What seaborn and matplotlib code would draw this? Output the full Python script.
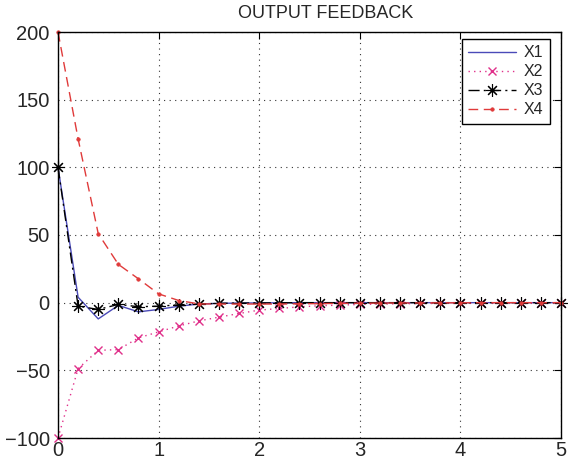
import numpy as np
import pandas as pd
import matplotlib
matplotlib.use("Agg")
import matplotlib.pyplot as plt
import seaborn as sns

# Sample times (step 0.2 s)
t = [round(0.2 * i, 1) for i in range(26)]

# State trajectories under output feedback
x1 = [100, 4, -12, -2, -6.8, -5, -2.6, -1, -0.5, -0.3, -0.2, -0.1, 0, 0, 0, 0,
      0, 0, 0, 0, 0, 0, 0, 0, 0, 0]
x2 = [-100, -48.7, -35.2, -34.7, -26, -21.6, -17.2, -13.5, -10.7, -8, -5.5, -4.3,
      -3.1, -2.3, -1.8, -1.3, -1.0, -0.8, -0.6, -0.5, -0.4, -0.3, -0.2, -0.2, -0.1, -0.1]
x3 = [100, -2.6, -5, -1.3, -3, -2.6, -1.6, -1, -0.5, -0.3, -0.2, -0.1, 0, 0, 0, 0,
      0, 0, 0, 0, 0, 0, 0, 0, 0, 0]
x4 = [200, 121, 51, 28.3, 17.6, 6.5, 1.6, -0.9, -1, -1, -1, -1, -0.8, -0.7, -0.5,
      -0.4, -0.3, -0.2, -0.2, -0.1, -0.1, 0, 0, 0, 0, 0]

labels = ["X1", "X2", "X3", "X4"]
x_ticks = [0, 1, 2, 3, 4, 5]
y_ticks = [-100, -50, 0, 50, 100, 150, 200]

df = pd.DataFrame({"t": t, "X1": x1, "X2": x2, "X3": x3, "X4": x4})

sns.set_style("white")
plt.rcParams["font.family"] = ["Liberation Sans", "DejaVu Sans"]

fig = plt.figure(figsize=(5.68, 4.62), dpi=100)
ax = fig.add_axes([58 / 568, 24 / 462, 503 / 568, 406 / 462])

styles = {
    "X1": dict(color="#4a4ab8", linestyle="-", lw=1.0),
    "X2": dict(color="#e0308a", linestyle=(0, (1, 3)), marker="x", lw=1.0,
               markersize=6, markeredgewidth=1.0),
    "X3": dict(color="black", linestyle=(0, (8, 3, 1.5, 3)), marker=(8, 2, 0),
               lw=1.0, markersize=9, markeredgewidth=0.8),
    "X4": dict(color="#e03a3a", linestyle=(0, (7, 4)), marker=".", lw=1.0,
               markersize=5, markeredgewidth=0.5),
}

for name in labels:
    st = dict(styles[name])
    if "marker" in st:
        st["markeredgecolor"] = st["color"]
        st["markerfacecolor"] = st["color"]
    sns.lineplot(data=df, x="t", y=name, ax=ax, label=name, clip_on=False, **st)

ax.set_xlim(0, 5)
ax.set_ylim(-100, 200)
ax.set_xticks(x_ticks)
ax.set_yticks(y_ticks)
ax.set_xlabel("")
ax.set_ylabel("")
ax.grid(True, linestyle=(0, (1, 4)), color="#333333", linewidth=0.8)
ax.tick_params(direction="in", length=5, width=0.8, labelsize=14.5,
               top=True, right=True, color="black")
ax.tick_params(axis="x", pad=2)
ax.tick_params(axis="y", pad=6)
for s in ax.spines.values():
    s.set_visible(True)
    s.set_color("black")
    s.set_linewidth(1.0)
    s.set_zorder(5)

leg = ax.legend(loc="upper right", fontsize=11.5, frameon=True, fancybox=False,
                edgecolor="black", framealpha=1, handlelength=3.0,
                borderpad=0.4, labelspacing=0.25, handletextpad=0.5,
                borderaxespad=0, bbox_to_anchor=(0.978, 0.983))
leg.get_frame().set_linewidth(1.0)
leg.set_zorder(10)

fig.text(326 / 568, 1 - 14 / 462, "OUTPUT FEEDBACK", ha="center", va="center",
         fontsize=13)

fig.savefig("out.png", dpi=100)
